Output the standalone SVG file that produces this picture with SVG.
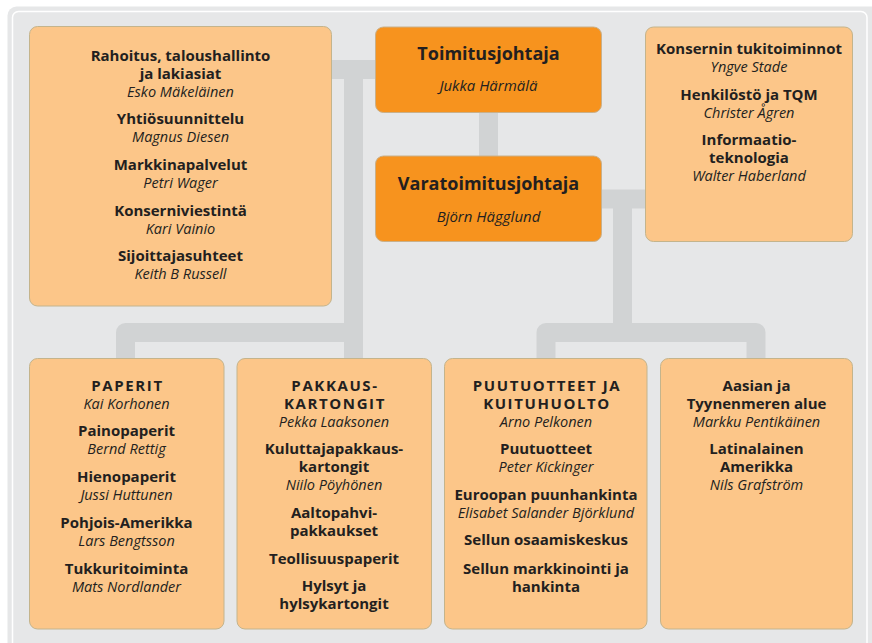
<svg xmlns="http://www.w3.org/2000/svg" width="872" height="643" viewBox="0 0 872 643">
<defs>
<style>
.bg{fill:#e6e7e8}
.rim{fill:none;stroke:#ffffff;stroke-width:1.5}
.box{fill:#fcc689;stroke:#c4b48c;stroke-width:1}
.main{fill:#f7931e;stroke:#c9b08a;stroke-width:1}
.con path{fill:none;stroke:#d1d3d4;stroke-width:19;stroke-linejoin:round}
text{font-family:"Open Sans","Noto Sans","Liberation Sans",sans-serif;fill:#231f20;text-anchor:middle}
.b{font-weight:bold;font-size:15px}
.i{font-style:italic;font-size:14.5px}
.t{font-weight:bold;font-size:18px}
.ti{font-style:italic;font-size:15px}
.c{font-weight:bold;font-size:15px;letter-spacing:1.6px}
</style>
</defs>
<rect x="0" y="0" width="872" height="643" fill="#ffffff"/>
<rect class="bg" x="7.5" y="6.5" width="880" height="660" rx="9"/>
<rect class="rim" x="12.5" y="11.5" width="854.5" height="650" rx="6"/>

<g class="con" id="connectors">
<path d="M331 69.5 H376"/>
<path d="M353.5 69.5 V359"/>
<path d="M125.5 359 V332.5 H353.5"/>
<path d="M488.5 112 V157"/>
<path d="M601 199 H646"/>
<path d="M622.5 199 V332.5"/>
<path d="M546 359 V332.5 H756 V359"/>
</g>

<g id="staff">
<rect class="box" x="29.5" y="26.5" width="302" height="279.5" rx="8"/>
<text class="b" x="180.5" y="61">Rahoitus, taloushallinto</text>
<text class="b" x="180.5" y="79">ja lakiasiat</text>
<text class="i" x="180.5" y="97">Esko Mäkeläinen</text>
<text class="b" x="180.5" y="124">Yhtiösuunnittelu</text>
<text class="i" x="180.5" y="142">Magnus Diesen</text>
<text class="b" x="180.5" y="170">Markkinapalvelut</text>
<text class="i" x="180.5" y="188">Petri Wager</text>
<text class="b" x="180.5" y="216">Konserniviestintä</text>
<text class="i" x="180.5" y="234">Kari Vainio</text>
<text class="b" x="180.5" y="261">Sijoittajasuhteet</text>
<text class="i" x="180.5" y="279">Keith B Russell</text>
</g>

<g id="ceo">
<rect class="main" x="375.5" y="27" width="226" height="85.5" rx="8"/>
<text class="t" x="488.5" y="59.5">Toimitusjohtaja</text>
<text class="ti" x="488.5" y="91">Jukka Härmälä</text>
</g>

<g id="deputy">
<rect class="main" x="375.5" y="156" width="226" height="85.5" rx="8"/>
<text class="t" x="488.5" y="189.5">Varatoimitusjohtaja</text>
<text class="ti" x="488.5" y="222">Björn Hägglund</text>
</g>

<g id="support">
<rect class="box" x="645.5" y="27" width="207" height="214.5" rx="8"/>
<text class="b" x="749" y="54">Konsernin tukitoiminnot</text>
<text class="i" x="749" y="72">Yngve Stade</text>
<text class="b" x="749" y="100">Henkilöstö ja TQM</text>
<text class="i" x="749" y="118">Christer Ågren</text>
<text class="b" x="749" y="145">Informaatio-</text>
<text class="b" x="749" y="163">teknologia</text>
<text class="i" x="749" y="180.5">Walter Haberland</text>
</g>

<g id="paperit">
<rect class="box" x="29.5" y="358.5" width="194.5" height="270.5" rx="8"/>
<text class="c" x="127.5" y="391">PAPERIT</text>
<text class="i" x="126.5" y="409">Kai Korhonen</text>
<text class="b" x="126.5" y="436">Painopaperit</text>
<text class="i" x="126.5" y="454">Bernd Rettig</text>
<text class="b" x="126.5" y="482">Hienopaperit</text>
<text class="i" x="126.5" y="500">Jussi Huttunen</text>
<text class="b" x="126.5" y="528">Pohjois-Amerikka</text>
<text class="i" x="126.5" y="546">Lars Bengtsson</text>
<text class="b" x="126.5" y="573.5">Tukkuritoiminta</text>
<text class="i" x="126.5" y="591.5">Mats Nordlander</text>
</g>

<g id="pakkaus">
<rect class="box" x="237" y="358.5" width="194.5" height="270.5" rx="8"/>
<text class="c" x="335" y="391">PAKKAUS-</text>
<text class="c" x="335" y="409">KARTONGIT</text>
<text class="i" x="334" y="427">Pekka Laaksonen</text>
<text class="b" x="334" y="454">Kuluttajapakkaus-</text>
<text class="b" x="334" y="472">kartongit</text>
<text class="i" x="334" y="490">Niilo Pöyhönen</text>
<text class="b" x="334" y="517.5">Aaltopahvi-</text>
<text class="b" x="334" y="535.5">pakkaukset</text>
<text class="b" x="334" y="563.5">Teollisuuspaperit</text>
<text class="b" x="334" y="591">Hylsyt ja</text>
<text class="b" x="334" y="609">hylsykartongit</text>
</g>

<g id="puutuotteet">
<rect class="box" x="444.5" y="358.5" width="202.5" height="270.5" rx="8"/>
<text class="c" x="547" y="391">PUUTUOTTEET JA</text>
<text class="c" x="547" y="409">KUITUHUOLTO</text>
<text class="i" x="546" y="427">Arno Pelkonen</text>
<text class="b" x="546" y="454">Puutuotteet</text>
<text class="i" x="546" y="472">Peter Kickinger</text>
<text class="b" x="546" y="500">Euroopan puunhankinta</text>
<text class="i" x="546" y="518">Elisabet Salander Björklund</text>
<text class="b" x="546" y="545">Sellun osaamiskeskus</text>
<text class="b" x="546" y="573.5">Sellun markkinointi ja</text>
<text class="b" x="546" y="591.5">hankinta</text>
</g>

<g id="aasia">
<rect class="box" x="660.5" y="358.5" width="192" height="270.5" rx="8"/>
<text class="b" x="756.5" y="391">Aasian ja</text>
<text class="b" x="756.5" y="409">Tyynenmeren alue</text>
<text class="i" x="756.5" y="427">Markku Pentikäinen</text>
<text class="b" x="756.5" y="454">Latinalainen</text>
<text class="b" x="756.5" y="472">Amerikka</text>
<text class="i" x="756.5" y="490">Nils Grafström</text>
</g>
</svg>
